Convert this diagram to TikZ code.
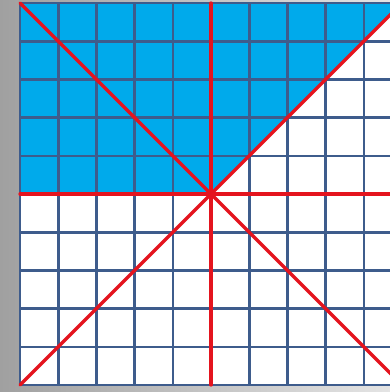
\documentclass[tikz,border=0pt]{standalone}
\usetikzlibrary{calc}
\definecolor{gridc}{RGB}{62,92,140}
\definecolor{fillc}{RGB}{0,170,235}
\definecolor{redc}{RGB}{228,20,30}
\definecolor{bgl}{RGB}{160,160,160}
\definecolor{bgr}{RGB}{228,228,228}
\tikzset{gridline/.style={draw=gridc,line width=2.6pt},
  redline/.style={draw=redc,line width=3.3pt,line cap=round}}
\begin{document}
\begin{tikzpicture}[x=1pt,y=-1pt]
\useasboundingbox (0,0) rectangle (390,392);
\shade[left color=bgl,right color=bgr] (0,0) rectangle (390,392);
\begin{scope}
\clip (0,0) rectangle (390,392);
\coordinate (TL) at (20,3);
\coordinate (TR) at (402,3);
\coordinate (BL) at (20,385);
\coordinate (BR) at (402,385);
\coordinate (C) at (211,194);
\fill[white] (TL) rectangle (BR);
\fill[fillc] (TL) -- (TR) -- (C) -- (20,194) -- cycle;
\foreach \i in {0,...,10} {
  \draw[gridline] ({20+38.2*\i},3) -- ({20+38.2*\i},385);
  \draw[gridline] (20,{3+38.2*\i}) -- (402,{3+38.2*\i});
}
\draw[redline] (TL) -- (BR);
\draw[redline] (BL) -- (TR);
\draw[redline] (20,194) -- (402,194);
\draw[redline] (211,3) -- (211,385);
\end{scope}
\end{tikzpicture}
\end{document}
